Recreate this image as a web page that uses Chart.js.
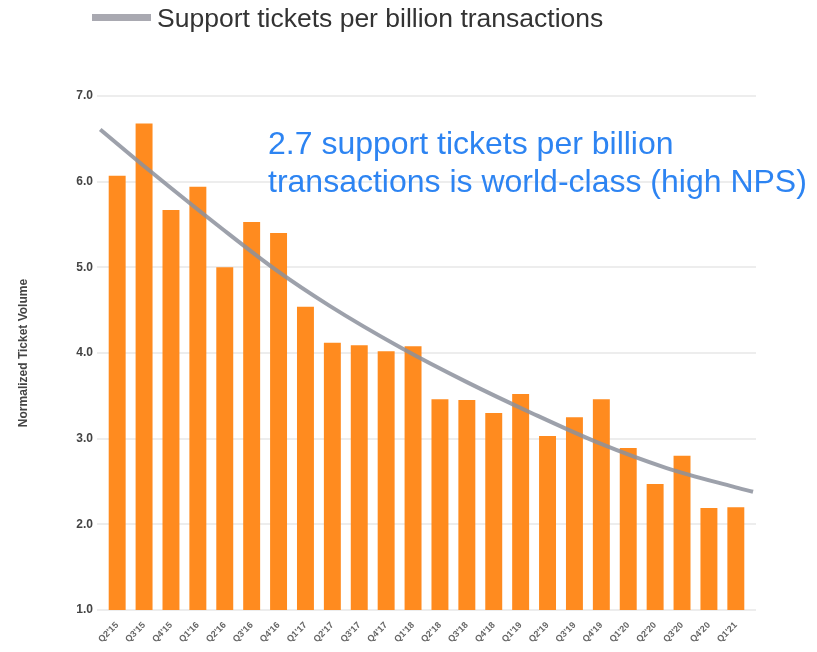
<!DOCTYPE html>
<html>
<head>
<meta charset="utf-8">
<script src="https://cdn.jsdelivr.net/npm/chart.js@4.4.1/dist/chart.umd.min.js"></script>
<style>
  body { margin: 0; background: #fff; }
  #wrap { position: relative; width: 817px; height: 652px; overflow: hidden; }
  #id-grafico { position: absolute; left: 0; top: 0; }
  .legend { position: absolute; left: 92px; top: 3px; height: 30px; font: 26.5px "Liberation Sans", Arial, sans-serif; line-height: 30px; color: #333; white-space: nowrap; }
  .legend .swatch { position: absolute; left: 0; top: 11px; width: 59px; height: 7px; background: #a9a9b1; }
  .legend .txt { position: absolute; left: 65px; top: 0; }
  .nota { position: absolute; left: 268px; top: 124px; font: 32px "Liberation Sans", Arial, sans-serif; line-height: 38px; color: #2d84f2; white-space: nowrap; }
</style>
</head>
<body>
<div id="wrap">
  <canvas id="id-grafico" width="817" height="652"></canvas>
  <div class="legend"><span class="swatch"></span><span class="txt">Support tickets per billion transactions</span></div>
  <div class="nota">2.7 support tickets per billion<br>transactions is world-class (high NPS)</div>
</div>
<script>
// trimestres
const quarters = ["Q2'15","Q3'15","Q4'15","Q1'16","Q2'16","Q3'16","Q4'16","Q1'17","Q2'17","Q3'17","Q4'17","Q1'18",
                  "Q2'18","Q3'18","Q4'18","Q1'19","Q2'19","Q3'19","Q4'19","Q1'20","Q2'20","Q3'20","Q4'20","Q1'21"];
// volumen normalizado de tickets
const tickets = [6.07, 6.68, 5.67, 5.94, 5.00, 5.53, 5.40, 4.54, 4.12, 4.09, 4.02, 4.08,
                 3.46, 3.45, 3.30, 3.52, 3.03, 3.25, 3.46, 2.89, 2.47, 2.80, 2.19, 2.20];
// linea de tendencia (posicion en trimestres, valor)
const trendPos = [-0.63, 1.2, 3.9, 5.9, 7.9, 10.5, 13.0, 15.4, 17.9, 20.4, 22.9, 23.64];
const trendVal = [6.61, 6.13, 5.45, 4.97, 4.55, 4.07, 3.66, 3.30, 2.95, 2.66, 2.44, 2.38];
const yTicks = [1, 2, 3, 4, 5, 6, 7];

let barData = quarters.map((q, i) => ({x: i, y: tickets[i]}));
let trendData = trendPos.map((p, i) => ({x: p, y: trendVal[i]}));

new Chart('id-grafico', {
    data: {
        datasets: [
        {
            type: "line",
            label: "Support tickets per billion transactions",
            data: trendData,
            borderColor: "rgba(140, 145, 156, 0.85)",
            borderWidth: 4,
            pointRadius: 0,
            cubicInterpolationMode: "monotone",
            clip: false,
            order: 0
        },
        {
            type: "bar",
            label: "Normalized Ticket Volume",
            data: barData,
            backgroundColor: "#ff8b1f",
            barPercentage: 0.63,
            categoryPercentage: 1,
            order: 1
        }
        ]
    },
    options: {
        responsive: false,
        animation: false,
        devicePixelRatio: 1,
        layout: { padding: { top: 96, right: 61, left: 0, bottom: 0 } },
        plugins: { legend: { display: false }, tooltip: { enabled: false } },
        scales: {
            x: {
                type: "linear",
                offset: false,
                min: -0.75,
                max: 23.75,
                grid: { display: false },
                border: { display: false },
                afterFit: (s) => { s.height = 42; },
                ticks: {
                    stepSize: 1,
                    includeBounds: false,
                    autoSkip: false,
                    minRotation: 45,
                    maxRotation: 45,
                    padding: 2,
                    color: "#666",
                    font: { family: "Liberation Sans, Arial", size: 9, weight: "bold" },
                    callback: (v) => quarters[v]
                }
            },
            y: {
                min: 1,
                max: 7,
                afterFit: (s) => { s.width = 97; },
                afterBuildTicks: (s) => { s.ticks = yTicks.map(v => ({value: v})); },
                grid: { color: "#ededed", lineWidth: 2, drawTicks: false },
                border: { display: false },
                ticks: {
                    padding: 4,
                    color: "#444",
                    font: { family: "Liberation Sans, Arial", size: 12, weight: "bold" },
                    callback: (v) => v.toFixed(1)
                },
                title: {
                    display: true,
                    text: "Normalized Ticket Volume",
                    color: "#444",
                    font: { family: "Liberation Sans, Arial", size: 12, weight: "bold" },
                    padding: { top: 16, bottom: 0 }
                }
            }
        }
    }
});
</script>
</body>
</html>
